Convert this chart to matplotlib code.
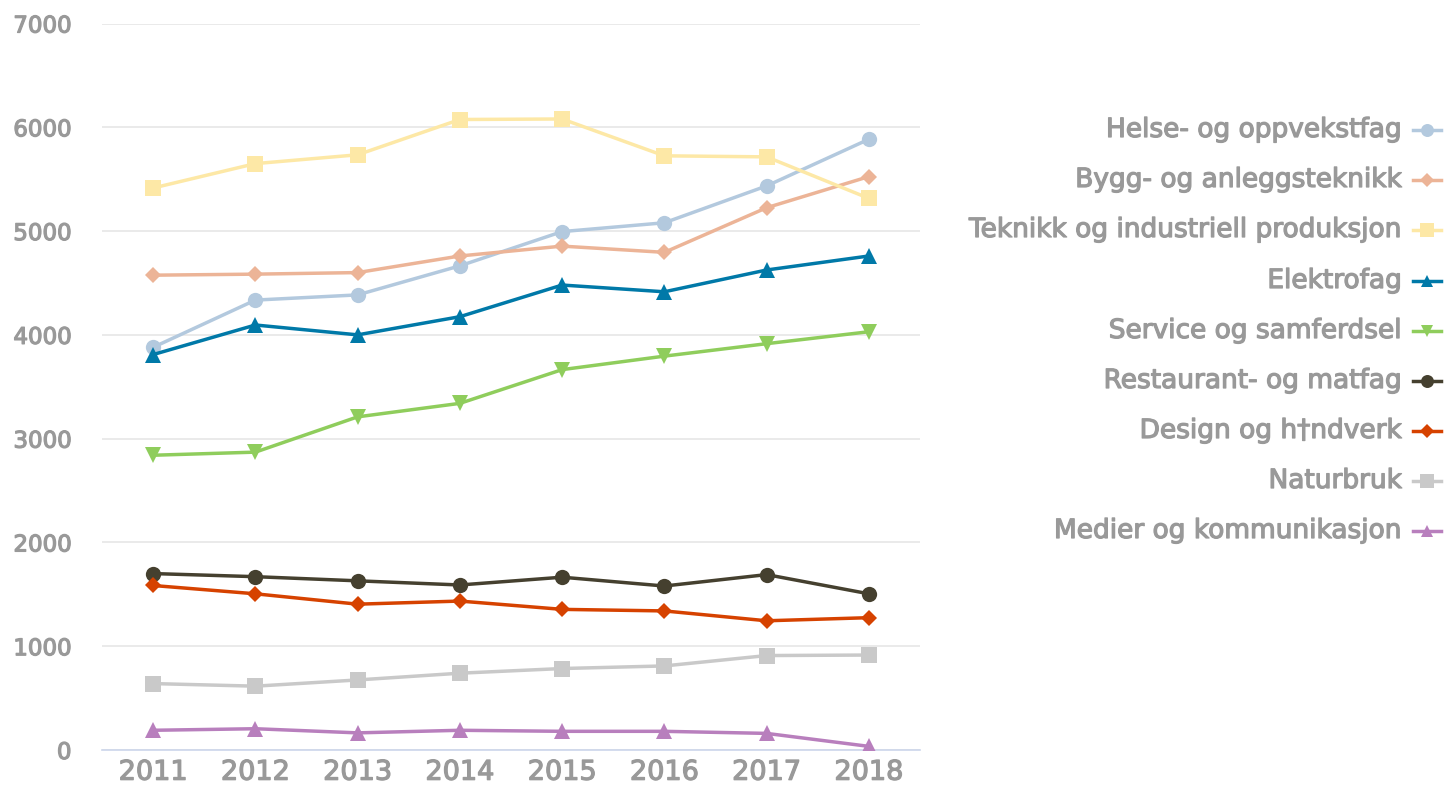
import matplotlib
matplotlib.use("Agg")
import matplotlib.pyplot as plt
import matplotlib.patheffects as pe
from matplotlib.lines import Line2D

# ── data ────────────────────────────────────────────────────────────────────
years = ["2011", "2012", "2013", "2014", "2015", "2016", "2017", "2018"]

names = [
    "Helse- og oppvekstfag",
    "Bygg- og anleggsteknikk",
    "Teknikk og industriell produksjon",
    "Elektrofag",
    "Service og samferdsel",
    "Restaurant- og matfag",
    "Design og h†ndverk",
    "Naturbruk",
    "Medier og kommunikasjon",
]

helse      = [3880, 4335, 4385, 4665, 4995, 5080, 5435, 5885]
bygg       = [4575, 4585, 4600, 4760, 4855, 4795, 5225, 5525]
teknikk    = [5415, 5650, 5735, 6075, 6080, 5725, 5715, 5315]
elektro    = [3810, 4095, 4000, 4175, 4480, 4415, 4625, 4760]
service    = [2840, 2870, 3210, 3340, 3665, 3795, 3915, 4030]
restaurant = [1700, 1670, 1630, 1590, 1665, 1580, 1690, 1505]
design     = [1585, 1505, 1405, 1435, 1355, 1340, 1245, 1275]
naturbruk  = [640, 615, 675, 740, 785, 810, 910, 915]
medier     = [190, 205, 165, 190, 180, 180, 160, 35]

series = [helse, bygg, teknikk, elektro, service, restaurant, design, naturbruk, medier]

# ── style ───────────────────────────────────────────────────────────────────
COLORS  = ["#b3c9de", "#ecb497", "#fde8a6", "#0079a8", "#8fcd5c",
           "#45402f", "#d64200", "#c9c9c9", "#b87fbd"]
MARKERS = ["o", "D", "s", "^", "v", "o", "D", "s", "^"]
MSIZE   = {"o": 11.0, "D": 8.0, "s": 11.5, "^": 11.0, "v": 11.0}
TXT     = "#999999"
BOLDISH = [pe.withStroke(linewidth=0.9, foreground=TXT)]

W, H = 1445, 789
fig = plt.figure(figsize=(W / 100, H / 100), dpi=100)
ax = fig.add_axes([102 / W, 1 - 750 / H, (920 - 102) / W, (750 - 23.5) / H])

xs = list(range(len(years)))
for vals, col, mk in zip(series, COLORS, MARKERS):
    ax.plot(xs, vals, color=col, lw=2.5, marker=mk, ms=MSIZE[mk],
            markeredgewidth=0, zorder=3)

ax.set_xlim(-0.5, len(years) - 0.5)
ax.set_ylim(0, 7000)
ax.set_yticks(range(0, 7001, 1000))
ax.set_xticks(xs)
ax.set_xticklabels(years)
ax.grid(axis="y", color="#e6e6e6", lw=1.2, zorder=0)
ax.set_axisbelow(True)
for s in ("top", "right", "left"):
    ax.spines[s].set_visible(False)
ax.spines["bottom"].set_color("#ccd6eb")
ax.spines["bottom"].set_linewidth(1.2)
ax.tick_params(axis="both", length=0, colors=TXT)
ax.tick_params(axis="y", labelsize=16.5, pad=22)
ax.tick_params(axis="x", labelsize=19.5, pad=7)
for lbl in ax.get_xticklabels() + ax.get_yticklabels():
    lbl.set_path_effects(BOLDISH)

# legend: right-aligned text, handle on the right
row_y = [130, 180, 230, 281, 331, 381, 431, 481, 531]
for name, col, mk, y in zip(names, COLORS, MARKERS, row_y):
    fig.text(1402 / W, 1 - y / H, name, ha="right", va="center",
             fontsize=19, color=TXT, path_effects=BOLDISH)
    fig.add_artist(Line2D([1413 / W, 1441 / W], [1 - y / H, 1 - y / H],
                          transform=fig.transFigure, color=col, lw=2.5))
    fig.add_artist(Line2D([1427 / W], [1 - y / H], transform=fig.transFigure,
                          color=col, marker=mk, ms=MSIZE[mk] * 0.85,
                          markeredgewidth=0, linestyle="none"))

fig.savefig("out.png", dpi=100)
